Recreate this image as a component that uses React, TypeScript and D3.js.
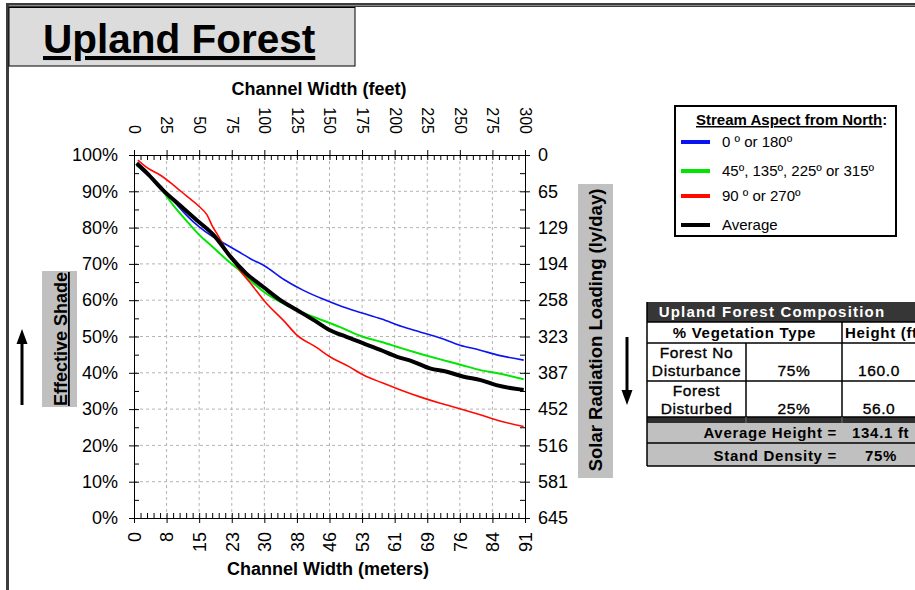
import React, { useEffect, useRef } from "react";
import * as d3 from "d3";

const FONT = "'Liberation Sans', Arial, sans-serif";

// axis ticks
const feetTicks = [0, 25, 50, 75, 100, 125, 150, 175, 200, 225, 250, 275, 300];
const meterLabels = ["0", "8", "15", "23", "30", "38", "46", "53", "61", "69", "76", "84", "91"];
const shadeTicks = [0, 10, 20, 30, 40, 50, 60, 70, 80, 90, 100];
const solarLabels = ["645", "581", "516", "452", "387", "323", "258", "194", "129", "65", "0"];

// series: channel width (ft) vs effective shade (%)
const blueFeet = [2, 10, 20, 30, 40, 50, 60, 70, 80, 90, 100, 115, 130, 145, 160, 175, 190, 205, 220, 235, 250, 265, 280, 299];
const blueShade = [97.2, 94.6, 91.6, 87.5, 83.5, 80.2, 77.6, 75.5, 73.4, 71.3, 69.5, 65.7, 62.7, 60.3, 58.2, 56.5, 54.8, 52.8, 51.2, 49.6, 47.6, 46.3, 44.8, 43.5];

const greenFeet = [2, 10, 20, 30, 40, 50, 60, 70, 80, 90, 100, 115, 130, 145, 160, 175, 190, 205, 220, 235, 250, 265, 280, 299];
const greenShade = [97.2, 95.0, 91.0, 86.2, 82.0, 78.0, 74.8, 71.5, 68.5, 65.2, 62.2, 59.0, 56.5, 54.4, 52.3, 50.0, 48.5, 46.8, 45.2, 43.7, 42.3, 40.8, 39.8, 38.2];

const redFeet = [3, 10, 20, 30, 40, 50, 56, 60, 65, 70, 80, 90, 100, 115, 125, 140, 150, 165, 176, 190, 205, 220, 235, 250, 265, 280, 299];
const redShade = [98.6, 96.5, 94.5, 91.8, 88.8, 85.8, 83.5, 80.5, 77.5, 74.3, 68.8, 64.4, 59.8, 54.3, 50.4, 47.0, 44.5, 41.7, 39.4, 37.3, 35.2, 33.3, 31.6, 30.1, 28.5, 26.8, 25.2];

const avgFeet = [2, 10, 22, 35, 48, 61, 74, 86, 99, 112, 125, 138, 150, 163, 176, 189, 202, 214, 227, 240, 253, 266, 278, 299];
const avgShade = [97.7, 95.0, 90.4, 86.2, 82.1, 78.0, 72.0, 67.4, 63.7, 60.1, 57.3, 54.5, 51.8, 49.9, 48.1, 46.3, 44.4, 43.1, 41.2, 40.3, 38.9, 38.0, 36.6, 35.3];

const legendLabels = ["0 º or 180º", "45º, 135º, 225º or 315º", "90 º or 270º", "Average"];

// composition table
const vegTypes = [["Forest No", "Disturbance"], ["Forest", "Disturbed"]];
const vegPercent = ["75%", "25%"];
const vegHeight = ["160.0", "56.0"];
const avgHeight = "134.1 ft";
const standDensity = "75%";

export default function App() {
  const ref = useRef<SVGSVGElement>(null);

  useEffect(() => {
    const svg = d3.select(ref.current);
    svg.selectAll("*").remove();
    svg.attr("font-family", FONT);

    svg.append("rect").attr("width", 915).attr("height", 590).attr("fill", "#fff");

    // page frame
    svg.append("rect").attr("x", 6).attr("y", 3).attr("width", 909).attr("height", 4).attr("fill", "#3c3c3c");
    svg.append("rect").attr("x", 6).attr("y", 5).attr("width", 909).attr("height", 1).attr("fill", "#8a8a8a");
    svg.append("rect").attr("x", 6).attr("y", 3).attr("width", 3).attr("height", 587).attr("fill", "#3c3c3c");

    // title box
    svg.append("rect").attr("x", 9).attr("y", 7.5).attr("width", 346).attr("height", 58.5)
      .attr("fill", "#dcdcdc").attr("stroke", "#000").attr("stroke-width", 1);
    svg.append("text").attr("x", 43).attr("y", 53).attr("font-size", 40.5).attr("font-weight", "bold")
      .style("text-decoration", "underline").text("Upland Forest");

    const x = d3.scaleLinear().domain([0, 300]).range([134, 525]);
    const y = d3.scaleLinear().domain([0, 100]).range([518, 155]);

    // grid
    const grid = svg.append("g").attr("stroke", "#b4b4b4").attr("stroke-dasharray", "3,3");
    grid.selectAll("line.v").data(feetTicks.slice(1, -1)).join("line").attr("class", "v")
      .attr("x1", (d) => x(d)).attr("x2", (d) => x(d)).attr("y1", y(0)).attr("y2", y(100));
    grid.selectAll("line.h").data(shadeTicks.slice(1, -1)).join("line").attr("class", "h")
      .attr("y1", (d) => y(d)).attr("y2", (d) => y(d)).attr("x1", x(0)).attr("x2", x(300));

    const minorFeet = d3.range(0, 301, 5).filter((d) => d % 25 !== 0);
    const minorShade = d3.range(5, 100, 10);

    // left axis
    svg.append("g").attr("transform", `translate(${x(0)},0)`)
      .call(d3.axisLeft(y).tickValues(shadeTicks).tickFormat((d) => `${d}%`).tickSizeInner(5).tickSizeOuter(0).tickPadding(11))
      .attr("font-size", 18).attr("font-family", FONT)
      .call((g) => g.selectAll(".tick line").attr("x1", 5));
    svg.append("g").attr("transform", `translate(${x(0)},0)`)
      .call(d3.axisLeft(y).tickValues(minorShade).tickFormat(() => "").tickSizeInner(-5).tickSizeOuter(0))
      .call((g) => g.select(".domain").remove());

    // right axis
    svg.append("g").attr("transform", `translate(${x(300)},0)`)
      .call(d3.axisRight(y).tickValues(shadeTicks).tickFormat((d, i) => solarLabels[i]).tickSizeInner(5).tickSizeOuter(0).tickPadding(8))
      .attr("font-size", 18).attr("font-family", FONT)
      .call((g) => g.selectAll(".tick line").attr("x1", -5));
    svg.append("g").attr("transform", `translate(${x(300)},0)`)
      .call(d3.axisRight(y).tickValues(minorShade).tickFormat(() => "").tickSizeInner(-5).tickSizeOuter(0))
      .call((g) => g.select(".domain").remove());

    // top axis (feet)
    svg.append("g").attr("transform", `translate(0,${y(100)})`)
      .call(d3.axisTop(x).tickValues(feetTicks).tickFormat((d) => String(d)).tickSizeInner(5).tickSizeOuter(0))
      .attr("font-size", 16).attr("font-family", FONT)
      .call((g) => g.selectAll(".tick line").attr("y1", 5))
      .call((g) => g.selectAll(".tick text").attr("x", 0).attr("y", 0).attr("dy", "0.35em")
        .attr("text-anchor", "end").attr("transform", "translate(0,-21) rotate(90)"));
    svg.append("g").attr("transform", `translate(0,${y(100)})`)
      .call(d3.axisTop(x).tickValues(minorFeet).tickFormat(() => "").tickSizeInner(-5).tickSizeOuter(0))
      .call((g) => g.select(".domain").remove());

    // bottom axis (meters)
    svg.append("g").attr("transform", `translate(0,${y(0)})`)
      .call(d3.axisBottom(x).tickValues(feetTicks).tickFormat((d, i) => meterLabels[i]).tickSizeInner(5).tickSizeOuter(0))
      .attr("font-size", 18).attr("font-family", FONT)
      .call((g) => g.selectAll(".tick line").attr("y1", -5))
      .call((g) => g.selectAll(".tick text").attr("x", 0).attr("y", 0).attr("dy", "0.35em")
        .attr("text-anchor", "end").attr("transform", "translate(0,14) rotate(-90)"));
    svg.append("g").attr("transform", `translate(0,${y(0)})`)
      .call(d3.axisBottom(x).tickValues(minorFeet).tickFormat(() => "").tickSizeInner(-5).tickSizeOuter(0))
      .call((g) => g.select(".domain").remove());

    // curves
    const line = d3.line<[number, number]>().x((d) => x(d[0])).y((d) => y(d[1])).curve(d3.curveMonotoneX);
    const series = [
      { feet: blueFeet, shade: blueShade, color: "#0a14f0", width: 1.6 },
      { feet: greenFeet, shade: greenShade, color: "#00e600", width: 2 },
      { feet: redFeet, shade: redShade, color: "#ff0a00", width: 1.6 },
      { feet: avgFeet, shade: avgShade, color: "#000", width: 4 },
    ];
    series.forEach((s) => {
      const pts = s.feet.map((f, i) => [f, s.shade[i]] as [number, number]);
      svg.append("path").attr("d", line(pts)).attr("fill", "none")
        .attr("stroke", s.color).attr("stroke-width", s.width).attr("stroke-linejoin", "round");
    });

    // axis titles
    svg.append("text").attr("x", 319).attr("y", 95).attr("text-anchor", "middle")
      .attr("font-size", 18).attr("font-weight", "bold").text("Channel Width (feet)");
    svg.append("text").attr("x", 328).attr("y", 575).attr("text-anchor", "middle")
      .attr("font-size", 18).attr("font-weight", "bold").text("Channel Width (meters)");

    // side labels
    svg.append("rect").attr("x", 42).attr("y", 271).attr("width", 35).attr("height", 136).attr("fill", "#c0c0c0");
    svg.append("text").attr("transform", "translate(67,339) rotate(-90)").attr("text-anchor", "middle")
      .attr("font-size", 18).attr("font-weight", "bold").style("text-decoration", "underline").text("Effective Shade");
    svg.append("rect").attr("x", 578).attr("y", 184).attr("width", 35).attr("height", 294).attr("fill", "#c0c0c0");
    svg.append("text").attr("transform", "translate(602,330) rotate(-90)").attr("text-anchor", "middle")
      .attr("font-size", 18.5).attr("font-weight", "bold").text("Solar Radiation Loading (ly/day)");

    // arrows
    svg.append("line").attr("x1", 22).attr("x2", 22).attr("y1", 405).attr("y2", 340).attr("stroke", "#000").attr("stroke-width", 3);
    svg.append("path").attr("d", "M22,329 L16.5,344 L27.5,344 Z").attr("fill", "#000");
    svg.append("line").attr("x1", 627).attr("x2", 627).attr("y1", 337).attr("y2", 394).attr("stroke", "#000").attr("stroke-width", 3);
    svg.append("path").attr("d", "M627,405 L621.5,390 L632.5,390 Z").attr("fill", "#000");

    // legend
    svg.append("rect").attr("x", 675).attr("y", 106).attr("width", 221).attr("height", 130)
      .attr("fill", "#fff").attr("stroke", "#000").attr("stroke-width", 2);
    const lt = svg.append("text").attr("x", 696).attr("y", 125).attr("font-size", 15).attr("font-weight", "bold");
    lt.append("tspan").style("text-decoration", "underline").text("Stream Aspect from North");
    lt.append("tspan").text(":");
    const legendY = [142, 171, 196, 225];
    series.forEach((s, i) => {
      svg.append("line").attr("x1", 681).attr("x2", 710).attr("y1", legendY[i]).attr("y2", legendY[i])
        .attr("stroke", s.color).attr("stroke-width", 4);
      svg.append("text").attr("x", 722).attr("y", legendY[i] + 5).attr("font-size", 15).text(legendLabels[i]);
    });

    // composition table
    const c0 = 647, c1 = 746, c2 = 842, c3 = 916;
    const tb = svg.append("g");
    tb.append("rect").attr("x", c0).attr("y", 302).attr("width", c3 - c0).attr("height", 20).attr("fill", "#363636");
    tb.append("text").attr("x", 772).attr("y", 317).attr("text-anchor", "middle").attr("fill", "#fff")
      .attr("font-size", 15).attr("font-weight", "bold").attr("letter-spacing", 1.2).text("Upland Forest Composition");
    tb.append("rect").attr("x", c0).attr("y", 417).attr("width", c3 - c0).attr("height", 6).attr("fill", "#2e2e2e");
    tb.append("rect").attr("x", c0).attr("y", 423).attr("width", c3 - c0).attr("height", 43).attr("fill", "#c0c0c0");

    const hl = [[322, c0, c3], [343, c0, c3], [381, c0, c3], [417, c0, c3], [443, c0, c3], [466, c0, c3]];
    hl.forEach(([yy, a, b]) => tb.append("line").attr("x1", a).attr("x2", b).attr("y1", yy).attr("y2", yy)
      .attr("stroke", "#000").attr("stroke-width", 1.5));
    const vl = [[c0, 302, 466], [c1, 343, 417], [c2, 322, 417]];
    vl.forEach(([xx, a, b]) => tb.append("line").attr("x1", xx).attr("x2", xx).attr("y1", a).attr("y2", b)
      .attr("stroke", "#000").attr("stroke-width", 1.5));
    [c1, c2].forEach((xx) => tb.append("line").attr("x1", xx).attr("x2", xx).attr("y1", 417).attr("y2", 423)
      .attr("stroke", "#777").attr("stroke-width", 1));

    const cell = (tx: number, ty: number, s: string, anchor = "middle", bold = true) =>
      tb.append("text").attr("x", tx).attr("y", ty).attr("text-anchor", anchor).attr("font-size", bold ? 15 : 15.5)
        .attr("font-weight", bold ? "bold" : "normal").attr("letter-spacing", bold ? 0.7 : 0.6)
        .attr("stroke", bold ? "none" : "#000").attr("stroke-width", 0.35).text(s);

    cell((c0 + c2) / 2, 338, "% Vegetation Type");
    cell(c2 + 3, 338, "Height (ft)", "start");
    vegTypes.forEach((lines, i) => {
      const top = i === 0 ? 343 : 381;
      cell((c0 + c1) / 2, top + 15, lines[0], "middle", false);
      cell((c0 + c1) / 2, top + 33, lines[1], "middle", false);
      cell((c1 + c2) / 2, top + 33, vegPercent[i], "middle", false);
      cell((c2 + c3) / 2, top + 33, vegHeight[i], "middle", false);
    });
    cell(837, 438, "Average Height =", "end");
    cell(852, 438, avgHeight, "start");
    cell(837, 461, "Stand Density =", "end");
    cell(881, 461, standDensity);
  }, []);

  return (
    <svg
      ref={ref}
      width={915}
      height={590}
      style={{ position: "absolute", left: 0, top: 0, display: "block" }}
    />
  );
}
